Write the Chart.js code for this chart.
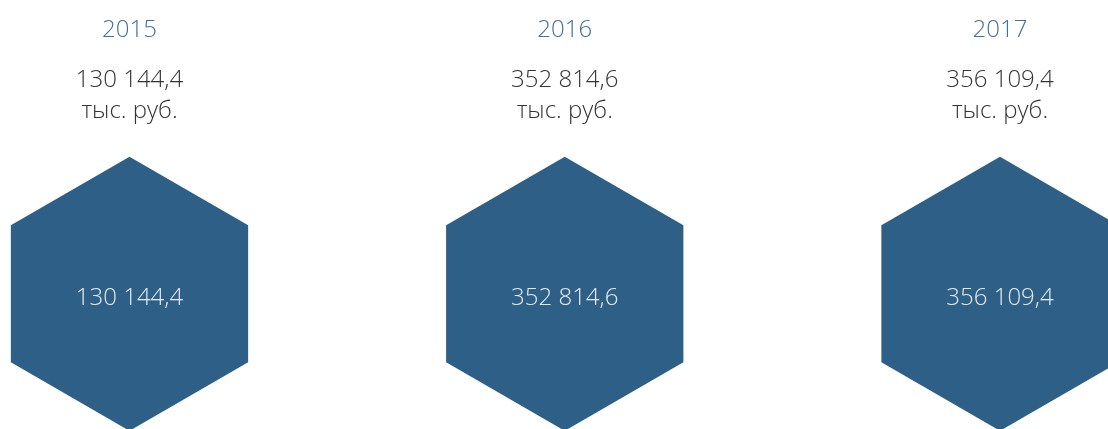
<!DOCTYPE html>
<html>
<head>
<meta charset="utf-8">
<script src="https://cdn.jsdelivr.net/npm/chart.js@4"></script>
<style>
  html, body { margin: 0; padding: 0; background: #fff; }
  #wrap { width: 1108px; height: 429px; }
</style>
</head>
<body>
<div id="wrap"><canvas id="hex"></canvas></div>
<script>
const years = ['2015', '2016', '2017']
const values = [130144.4, 352814.6, 356109.4]
const unitLabel = 'тыс. руб.'

const hexColor = '#2e5f86'
const fontFamily = '"Open Sans", "Noto Sans", sans-serif'

// "130 144,4" style
const fmt = v => {
  const [int, dec] = v.toFixed(1).split('.')
  return int.replace(/\B(?=(\d{3})+(?!\d))/g, ' ') + ',' + dec
}

const hexPlugin = {
  id: 'hexagons',
  afterDatasetsDraw (chart) {
    const ctx = chart.ctx
    const meta = chart.getDatasetMeta(0)
    const r = 137
    ctx.save()
    meta.data.forEach((pt, i) => {
      const { x, y } = pt
      ctx.beginPath()
      for (let k = 0; k < 6; k++) {
        const a = -Math.PI / 2 + k * Math.PI / 3
        const px = x + r * Math.cos(a)
        const py = y + r * Math.sin(a)
        if (k === 0) ctx.moveTo(px, py)
        else ctx.lineTo(px, py)
      }
      ctx.closePath()
      ctx.fillStyle = hexColor
      ctx.fill()

      ctx.textAlign = 'center'
      ctx.textBaseline = 'middle'
      ctx.font = '300 24px ' + fontFamily
      ctx.fillStyle = '#e4eaf1'
      ctx.fillText(fmt(values[i]), x, y + 4)

      // labels above
      ctx.fillStyle = '#44709a'
      ctx.fillText(years[i], x, 30)
      ctx.fillStyle = '#333333'
      ctx.fillText(fmt(values[i]), x, 80)
      ctx.fillText(unitLabel, x, 111)
    })
    ctx.restore()
  }
}

new Chart(document.getElementById('hex'), {
  type: 'scatter',
  data: {
    datasets: [{
      data: values.map((v, i) => ({ x: i, y: 0 })),
      pointRadius: 0,
      pointHoverRadius: 0
    }]
  },
  options: {
    responsive: true,
    maintainAspectRatio: false,
    animation: false,
    layout: { padding: 0 },
    plugins: { legend: { display: false }, tooltip: { enabled: false } },
    scales: {
      x: { type: 'linear', min: -0.2975, max: 2.2481, display: false },
      y: { type: 'linear', min: -0.46, max: 1, display: false }
    }
  },
  plugins: [hexPlugin]
})
</script>
</body>
</html>
